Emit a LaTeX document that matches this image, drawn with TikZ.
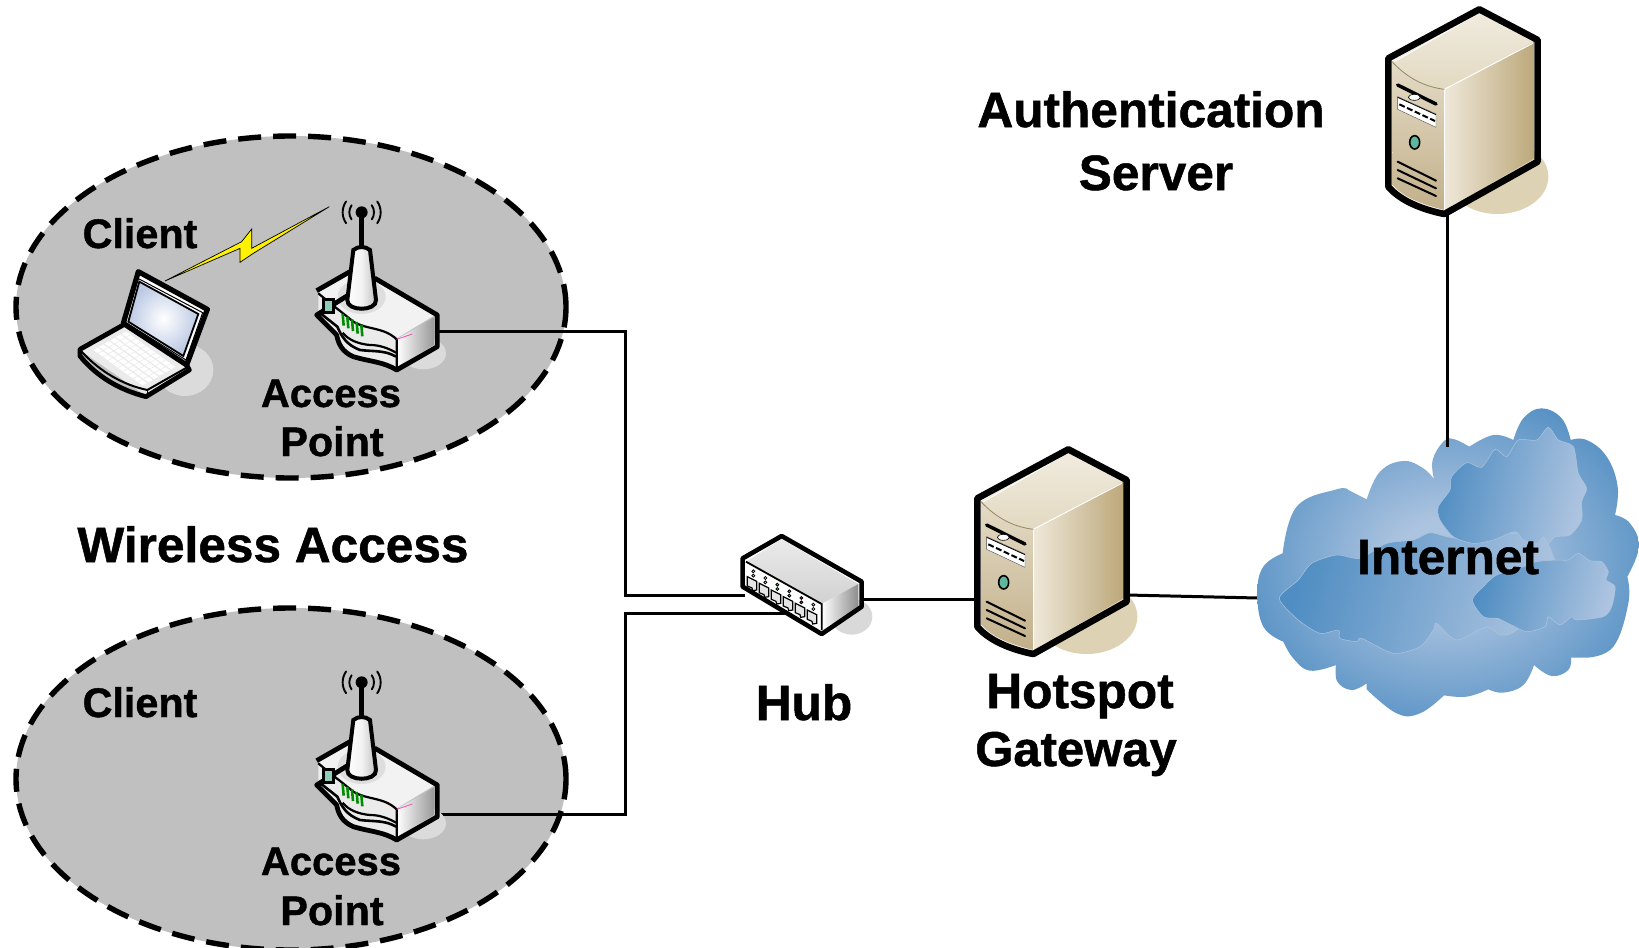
\documentclass[tikz,border=0pt]{standalone}
\usepackage{fontspec}
\setmainfont{Liberation Sans}[BoldFeatures={FakeBold=1}]
\usetikzlibrary{shapes.geometric}
\definecolor{zonegray}{HTML}{C0C0C0}
\definecolor{clouddark}{HTML}{4F8DC2}
\definecolor{cloudlight}{HTML}{ADC4E0}
\definecolor{tanshadow}{HTML}{DDD2B3}
\definecolor{tantop}{HTML}{F1ECDF}
\definecolor{tantopb}{HTML}{E2D9C1}
\definecolor{tanlight}{HTML}{EFE8D9}
\definecolor{tandark}{HTML}{BCA87A}
\definecolor{tanfront}{HTML}{E4DBC6}
\definecolor{tanfrontb}{HTML}{C2B08A}
\definecolor{screenblue}{HTML}{BCC9E4}
\definecolor{ledteal}{HTML}{5FB89E}
\pgfdeclareradialshading{cloudglow}{\pgfpoint{0bp}{0bp}}{color(0bp)=(cloudlight); color(7bp)=(cloudlight); color(30bp)=(clouddark); color(50bp)=(clouddark)}
\tikzset{
  lbl/.style={font=\fontsize{49.6}{49.6}\selectfont\bfseries, anchor=base, inner sep=0pt},
  lblgate/.style={font=\fontsize{49}{49}\selectfont\bfseries, anchor=base, inner sep=0pt},
  lblsmall/.style={font=\fontsize{41.3}{41.3}\selectfont\bfseries, anchor=base, inner sep=0pt},
  lblaccess/.style={font=\fontsize{40}{40}\selectfont\bfseries, anchor=base, inner sep=0pt},
  wire/.style={line width=3pt, black},
  zone/.style={ellipse, draw=black, fill=zonegray, line width=5.4pt, dash pattern=on 23pt off 12pt,
    minimum width=550pt, minimum height=342pt, inner sep=0pt},
  innercloud/.style={draw=cloudlight, line width=.5pt, left color=clouddark, right color=cloudlight, shading angle=75, line join=round},
  servericon/.pic={
    \fill[tanshadow] (1100,560) ellipse [x radius=152, y radius=112];
    \path[left color=tanfront, right color=tanfrontb, shading angle=0] (783,215) .. controls (830,265) and (880,290) .. (940,298) -- (940,660) .. controls (880,645) and (820,625) .. (785,585) -- cycle;
    \path[left color=tantop, right color=tantopb, shading angle=0] (1045,62) -- (1210,155) -- (940,298) .. controls (880,290) and (830,265) .. (783,215) -- cycle;
    \path[left color=tanlight, right color=tandark] (940,298) -- (1210,155) -- (1210,505) -- (940,660) -- cycle;
    \draw[white, line width=1pt] (790,215) -- (1045,68) (940,298) -- (1205,160);
    \draw[white, line width=1pt] (940,298) -- (940,660);
    \draw[tandark!80!black, line width=.8pt] (783,215) .. controls (830,265) and (880,290) .. (940,298);
    \draw[black, line width=6.6pt, line join=round] (1045,58) -- (1220,150) -- (1220,515) -- (940,672) .. controls (880,660) and (810,635) .. (772,590) -- (772,205) -- cycle;
    \fill[white, draw=black!70, line width=.4pt] (800,320) -- (915,372) -- (915,412) -- (800,358) -- cycle;
    \draw[black, line width=3.4pt, line cap=round] (800,285) -- (915,342);
    \draw[black, line width=2pt, dash pattern=on 6pt off 2.5pt] (805,343) -- (912,393);
    \draw[black, line width=.8pt] (800,322) -- (915,374);
    \fill[white, draw=black, line width=.6pt] (850,322) ellipse [x radius=18, y radius=9];
    \draw[black, line width=1.6pt, fill=ledteal] (851,457) ellipse [x radius=15, y radius=20];
    \draw[black, line width=2pt, line cap=round] (800,515) -- (915,572) (800,540) -- (915,595) (800,565) -- (915,618);
  },
  hubicon/.pic={
    \fill[black!15] (395,560) ellipse [x radius=62, y radius=54];
    \path[left color=black!8, right color=black!18, shading angle=0] (185,328) -- (415,462) -- (305,522) -- (78,395) -- cycle;
    \path[left color=white, right color=black!45] (305,522) -- (415,462) -- (415,530) -- (305,600) -- cycle;
    \fill[white] (78,395) -- (305,522) -- (305,600) -- (78,470) -- cycle;
    \draw[black, line width=4.6pt, line join=round] (185,318) -- (425,455) -- (425,530) -- (305,612) -- (68,470) -- (68,385) -- cycle;
    \draw[black, line width=1.8pt] (78,395) -- (305,522) -- (305,600);
    \foreach \i/\c in {0/black!10,1/black!10,2/green,3/green,4/red,5/black!10}{
      \begin{scope}[shift={({\i*36},{\i*20})}]
        \draw[black, line width=1.2pt, fill=black!10] (82,440) -- (110,454) -- (110,480) -- (98,482) -- (96,474) -- (82,468) -- cycle;
        \draw[black, line width=.8pt, fill=\c] (100,424) circle (4.5);
        \draw[black, line width=.8pt, fill=\c] (100,437) circle (4.5);
      \end{scope}
    }
  },
  routericon/.pic={
    \fill[black!14] (1090,520) ellipse [x radius=68, y radius=48];
    \fill[black!5] (775,335) -- (900,265) -- (1125,405) -- (1010,475) .. controls (950,445) and (880,430) .. (850,400) .. controls (820,375) and (800,360) .. (775,335) -- cycle;
    \fill[black!13] (905,350) ellipse [x radius=72, y radius=52];
    \path[left color=white, right color=black!40] (1010,478) -- (1122,412) -- (1122,495) -- (1010,560) -- cycle;
    \fill[black!8] (775,340) .. controls (810,370) and (850,400) .. (880,425) .. controls (920,450) and (970,440) .. (1010,478) -- (1010,565) .. controls (970,540) and (930,545) .. (880,530) .. controls (845,515) and (835,490) .. (830,465) -- (775,405) -- cycle;
    \draw[black, line width=4.8pt, line join=round] (770,332) -- (870,275) (945,295) -- (1132,405) -- (1132,500) -- (1010,570) .. controls (970,545) and (930,545) .. (880,530) .. controls (845,515) and (835,490) .. (830,465) -- (770,405) -- cycle;
    \draw[black, line width=2.2pt] (775,340) .. controls (810,370) and (850,400) .. (880,425) .. controls (920,450) and (970,440) .. (1010,478) -- (1010,565);
    \draw[black, line width=2.6pt] (775,395) -- (832,440) .. controls (845,470) and (860,495) .. (900,510) .. controls (940,515) and (975,510) .. (1008,530);
    \draw[black, line width=2.2pt] (848,458) .. controls (865,480) and (895,492) .. (930,495) .. controls (960,495) and (985,505) .. (1008,518);
    \draw[black, line width=2.6pt, fill=ledteal!70!white] (790,358) rectangle (820,398);
    \foreach \i in {0,1,2,3,4}{
      \draw[green!55!black, line width=2.6pt] ({848+\i*14},{402+\i*8}) -- ({851+\i*14},{437+\i*8});
    }
    \draw[magenta!70!white, line width=.8pt] (1010,478) -- (1057,462);
    \draw[black, line width=4.4pt] (905,100) -- (905,205);
    \fill[black] (905,97) circle (18);
    \foreach \r in {37,57}{
      \draw[black, line width=1.9pt, line cap=round] (905,97) ++(145:\r) arc[start angle=145, end angle=215, radius=\r];
      \draw[black, line width=1.9pt, line cap=round] (905,97) ++(-35:\r) arc[start angle=-35, end angle=35, radius=\r];
    }
    \draw[black, line width=4pt, left color=white, right color=black!25, middle color=black!5] (880,210) .. controls (895,198) and (915,198) .. (930,210) -- (948,360) .. controls (950,395) and (860,395) .. (862,360) -- cycle;
  },
  laptopicon/.pic={
    \fill[black!14] (375,570) ellipse [x radius=85, y radius=78];
    \fill[black!8] (60,510) -- (190,435) -- (385,565) -- (255,645) -- cycle;
    \foreach \u in {0,.17,.34,.51,.68,.85}{
      \foreach \v in {0,.1,.2,.3,.4,.5,.6,.7,.8,.9}{
        \fill[white] ({100+\u*100+\v*150},{510-\u*57+\v*108}) -- ++(13,-7) -- ++(13,9) -- ++(-13,7) -- cycle;
      }
    }
    \draw[black, line width=4.8pt, line join=round] (195,432) -- (60,508) -- (60,528) .. controls (110,590) and (180,630) .. (258,650) -- (388,570) -- (378,552);
    \draw[black, line width=2pt] (65,515) .. controls (120,575) and (190,615) .. (262,630) -- (385,560);
    \draw[black, line width=1pt] (262,630) -- (262,650);
    \draw[black, line width=5.2pt, line join=round, fill=white] (235,275) -- (442,388) -- (380,555) -- (190,430) -- cycle;
    \draw[black, line width=1.8pt, inner color=white, outer color=screenblue] (238,305) -- (415,402) -- (370,528) -- (205,425) -- cycle;
    \draw[black, line width=1pt] (228,292) -- (428,398) -- (378,540) -- (198,428);
    \filldraw[fill=yellow, draw=black, line width=.7pt, line join=miter] (315,303) -- (545,185) -- (575,147) -- (575,205) -- (808,80) -- (580,220) -- (540,247) -- (540,205) -- cycle;
  },
  cloudicon/.pic={
    \path[shading=cloudglow]
      plot[smooth, tension=.7] coordinates {(128,490) (170,350) (290,298) (325,300)} -- (380,328)
      -- plot[smooth, tension=.7] coordinates {(380,328) (420,245) (490,213) (550,235) (582,268)}
      -- plot[smooth, tension=.7] coordinates {(582,268) (578,210) (610,155) (640,147) (688,170)}
      -- plot[smooth, tension=.7] coordinates {(688,170) (760,135) (820,150)}
      -- plot[smooth, tension=.7] coordinates {(820,150) (850,85) (905,55) (965,85) (992,150)}
      -- plot[smooth, tension=.7] coordinates {(992,150) (1040,150) (1100,200) (1133,290) (1125,375)}
      -- plot[smooth, tension=.7] coordinates {(1125,375) (1170,400) (1197,470) (1162,560)}
      -- plot[smooth, tension=.7] coordinates {(1162,560) (1165,640) (1120,770) (1040,803)} -- (993,803)
      -- plot[smooth, tension=.7] coordinates {(993,803) (985,840) (935,858) (882,825)}
      -- plot[smooth, tension=.7] coordinates {(882,825) (850,885) (790,908) (745,898)}
      -- plot[smooth, tension=.7] coordinates {(745,898) (680,920) (612,916)}
      -- plot[smooth, tension=.7] coordinates {(612,916) (540,970) (470,970) (380,898)} -- (380,880)
      -- plot[smooth, tension=.7] coordinates {(380,880) (335,900) (292,875) (288,825)}
      -- plot[smooth, tension=.7] coordinates {(288,825) (210,842) (160,805) (130,755)}
      -- plot[smooth, tension=.7] coordinates {(130,755) (70,710) (52,610) (70,530) (128,490)} -- cycle;
    \path[innercloud]
      plot[smooth cycle, tension=.45] coordinates {(118,625) (175,570) (215,520) (290,495) (360,505) (440,460) (520,450) (570,428) (620,440) (700,450) (830,430) (880,470) (910,440) (940,500) (960,600) (830,720) (780,735) (740,710) (650,750) (590,700) (580,720) (540,770) (460,790) (365,745) (350,755) (300,745) (295,720) (240,730) (175,690)};
    \path[innercloud]
      plot[smooth cycle, tension=.45] coordinates {(595,350) (630,300) (635,260) (680,218) (725,232) (765,178) (800,200) (835,150) (890,150) (925,112) (955,150) (1000,170) (1015,250) (1040,295) (1025,335) (1025,390) (990,435) (945,440) (925,460) (910,440) (890,460) (850,450) (825,425) (760,450) (700,460) (640,440) (600,390)};
    \path[innercloud]
      plot[smooth cycle, tension=.45] coordinates {(697,630) (730,590) (770,555) (850,530) (890,515) (950,510) (985,510) (1015,490) (1050,512) (1085,515) (1105,545) (1098,570) (1125,590) (1115,650) (1090,680) (1010,690) (995,680) (960,705) (925,680) (915,710) (860,725) (815,705) (785,690) (775,685) (730,680)};
  },
}
\begin{document}
\begin{tikzpicture}[x=1pt,y=-1pt]
\useasboundingbox (0,0) rectangle (1639,948);
\fill[white] (0,0) rectangle (1639,948);

\node[zone] (zoneA) at (291,307) {};
\node[zone] (zoneB) at (291,779) {};

% connector end points
\coordinate (apAport) at (437,331);
\coordinate (apBport) at (437,814);
\coordinate (busA) at (625,331);
\coordinate (busB) at (625,814);
\coordinate (hubA) at (745,595);
\coordinate (hubB) at (785,613);
\coordinate (hubE) at (863,599);
\coordinate (gwW) at (977,599);
\coordinate (gwE) at (1127,595);
\coordinate (netW) at (1258,598);
\coordinate (authS) at (1447,214);
\coordinate (netN) at (1447,447);

\draw[wire] (apAport) -- (busA) |- (hubA);
\draw[wire] (apBport) -- (busB) |- (hubB);
\draw[wire] (hubE) -- (gwW);
\draw[wire] (gwE) -- (netW);

\pic[scale=1/3] at (60,180) {laptopicon};
\pic[scale=1/3] at (60,180) {routericon};
\pic[scale=1/3] at (60,650) {routericon};
\pic[scale=1/3] at (720,430) {hubicon};
\pic[scale=1/3] at (720,430) {servericon};
\pic[scale=1/3] at (1131,-10) {servericon};
\pic[scale=1/3] at (1240,390) {cloudicon};
\draw[wire] (authS) -- (netN);

\node[lbl] (authA) at (1151,127) {Authentication};
\node[lbl] (authB) at (1156,190) {Server};
\node[lblsmall] (cliA) at (140,248) {Client};
\node[lblsmall] (cliB) at (140,717) {Client};
\node[lblaccess] (apA1) at (331,407) {Access};
\node[lblsmall] (apA2) at (332,456) {Point};
\node[lblaccess] (apB1) at (331,875) {Access};
\node[lblsmall] (apB2) at (332,925) {Point};
\node[lbl] (wa) at (273,562) {Wireless Access};
\node[lbl] (hublbl) at (804,720) {Hub};
\node[lbl] (gw1) at (1080,708) {Hotspot};
\node[lblgate] (gw2) at (1076,766) {Gateway};
\node[lbl] (inet) at (1448,574) {Internet};
\end{tikzpicture}
\end{document}
